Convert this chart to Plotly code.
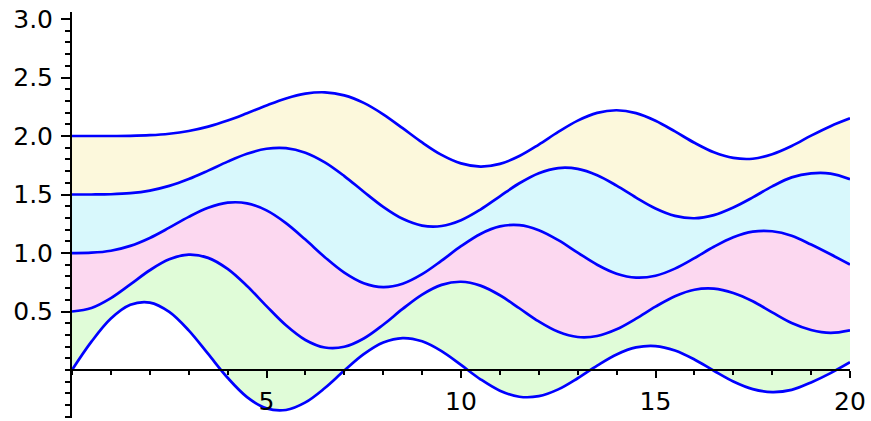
import plotly.graph_objects as go

x = [i * 0.5 for i in range(41)]

# Values (five stacked oscillating curves)
curve1 = [0.0, 0.2423, 0.4401, 0.5579, 0.5767, 0.4971, 0.3391, 0.1374, -0.0660, -0.2311,
          -0.3276, -0.3414, -0.2767, -0.1538, -0.0047, 0.1352, 0.2346, 0.2731, 0.2453, 0.1613,
          0.0435, -0.0789, -0.1768, -0.2284, -0.2234, -0.1655, -0.0703, 0.0380, 0.1334, 0.1934,
          0.2051, 0.1672, 0.0904, -0.0061, -0.0977, -0.1629, -0.1880, -0.1695, -0.1057, -0.0262,
          0.0668]
curve2 = [0.5, 0.5306, 0.6150, 0.7321, 0.8528, 0.9461, 0.9861, 0.9586, 0.8641, 0.7178,
          0.5466, 0.3827, 0.2571, 0.1926, 0.1986, 0.2697, 0.3870, 0.5224, 0.6448, 0.7279,
          0.7546, 0.7216, 0.6391, 0.5280, 0.4151, 0.3266, 0.2823, 0.2906, 0.3480, 0.4392,
          0.5416, 0.6308, 0.6862, 0.6953, 0.6584, 0.5872, 0.4925, 0.4016, 0.3423, 0.3179,
          0.3397]
curve3 = [1.0, 1.0026, 1.0196, 1.0610, 1.1289, 1.2167, 1.3091, 1.3867, 1.4301, 1.4247,
          1.3648, 1.2561, 1.1148, 0.9646, 0.8325, 0.7420, 0.7089, 0.7374, 0.8191, 0.9347,
          1.0583, 1.1633, 1.2274, 1.2381, 1.1951, 1.1100, 1.0033, 0.9000, 0.8232, 0.7898,
          0.8060, 0.8666, 0.9562, 1.0534, 1.1350, 1.1828, 1.1863, 1.1482, 1.0725, 0.9889,
          0.9011]
curve4 = [1.5, 1.5002, 1.5025, 1.5118, 1.5340, 1.5738, 1.6320, 1.7043, 1.7811, 1.8485,
          1.8912, 1.8967, 1.8577, 1.7747, 1.6578, 1.5239, 1.3947, 1.2922, 1.2346, 1.2309,
          1.2804, 1.3717, 1.4849, 1.5962, 1.6825, 1.7262, 1.7192, 1.6650, 1.5762, 1.4738,
          1.3808, 1.3176, 1.2974, 1.3241, 1.3892, 1.4755, 1.5696, 1.6465, 1.6806, 1.6787,
          1.6306]
curve5 = [2.0, 2.0000, 2.0002, 2.0018, 2.0070, 2.0195, 2.0430, 2.0803, 2.1321, 2.1949,
          2.2611, 2.3209, 2.3621, 2.3735, 2.3478, 2.2835, 2.1858, 2.0670, 1.9450, 1.8387,
          1.7660, 1.7389, 1.7616, 1.8288, 1.9266, 2.0348, 2.1316, 2.1978, 2.2203, 2.1957,
          2.1304, 2.0393, 1.9425, 1.8613, 1.8129, 1.8060, 1.8446, 1.9151, 2.0035, 2.0844,
          2.1511]

curves = [curve1, curve2, curve3, curve4, curve5]
fill_colors = [None, "rgb(224,252,216)", "rgb(252,216,240)", "rgb(216,248,252)", "rgb(252,248,220)"]

x_tick_vals = [5, 10, 15, 20]
y_tick_vals = [0.5, 1.0, 1.5, 2.0, 2.5, 3.0]
y_tick_text = ["0.5", "1.0", "1.5", "2.0", "2.5", "3.0"]

x_range = [0, 20]
y_range = [-0.41, 3.06]

fig = go.Figure()
for i, c in enumerate(curves):
    fig.add_trace(go.Scatter(
        x=x, y=c, mode="lines",
        line=dict(color="#0000ff", width=2.7, shape="spline", smoothing=1.0),
        fill=None if i == 0 else "tonexty",
        fillcolor=fill_colors[i],
        showlegend=False, hoverinfo="skip", cliponaxis=False,
    ))

font = dict(family="DejaVu Sans", size=25, color="black")

fig.update_layout(
    width=871, height=421,
    margin=dict(l=72, r=21, t=12, b=3, autoexpand=False),
    plot_bgcolor="white", paper_bgcolor="white",
    font=font,
    xaxis=dict(
        range=x_range, showgrid=False, zeroline=False, automargin=False,
        showline=True, linecolor="black", linewidth=2,
        anchor="free", position=(0 - y_range[0]) / (y_range[1] - y_range[0]),
        tickvals=x_tick_vals, ticks="outside", ticklen=7, tickwidth=2, tickcolor="black",
        minor=dict(dtick=1, tick0=0, ticks="outside", ticklen=4, tickwidth=1.5, tickcolor="black"),
        tickfont=font, ticklabelstandoff=2,
    ),
    yaxis=dict(
        range=y_range, showgrid=False, zeroline=False, automargin=False,
        showline=True, linecolor="black", linewidth=2,
        tickvals=y_tick_vals, ticktext=y_tick_text,
        ticks="outside", ticklen=9, tickwidth=2, tickcolor="black",
        minor=dict(dtick=0.1, tick0=0, ticks="outside", ticklen=5, tickwidth=1.5, tickcolor="black"),
        tickfont=font, ticklabelstandoff=3,
    ),
)

fig.write_html("out.html", config={"displayModeBar": False},
               post_script="document.body.style.margin='0';document.body.style.overflow='hidden';")
